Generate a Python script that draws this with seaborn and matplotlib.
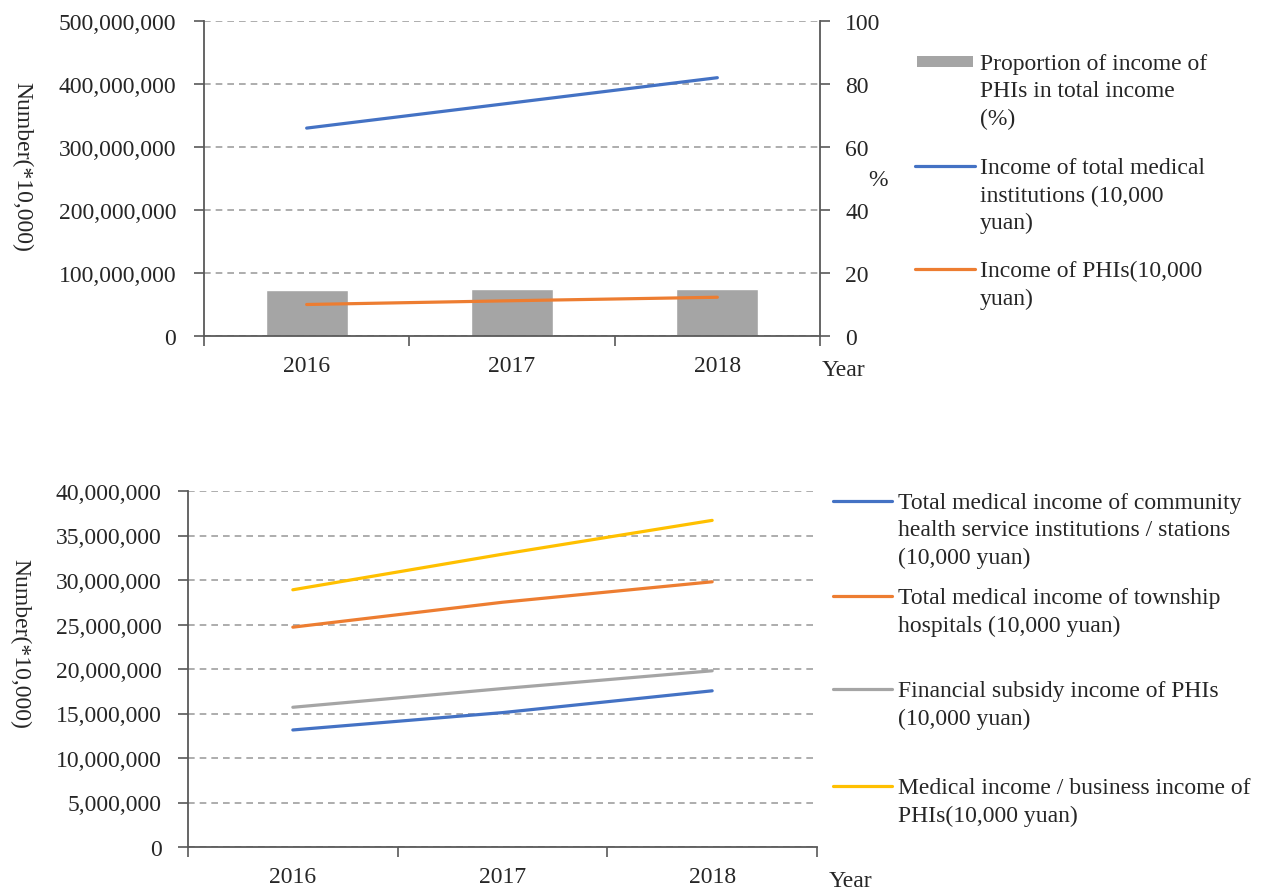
import numpy as np
import pandas as pd
import matplotlib.pyplot as plt
import seaborn as sns
from matplotlib.lines import Line2D
from matplotlib.patches import Rectangle
from matplotlib.ticker import FuncFormatter, MultipleLocator

# data
years = ['2016', '2017', '2018']
proportion = [14.5, 14.9, 15.0]                 # % (bars, right axis)
total_income = [330e6, 370e6, 410e6]            # 10,000 yuan
phi_income = [50e6, 56e6, 61.5e6]

community = [13.15e6, 15.1e6, 17.55e6]
township = [24.7e6, 27.5e6, 29.8e6]
subsidy = [15.7e6, 17.8e6, 19.8e6]
business = [28.9e6, 32.9e6, 36.7e6]

top_names = ['Proportion of income of\nPHIs in total income\n(%)',
             'Income of total medical\ninstitutions (10,000\nyuan)',
             'Income of PHIs(10,000\nyuan)']
bottom_names = ['Total medical income of community\nhealth service institutions / stations\n(10,000 yuan)',
                'Total medical income of township\nhospitals (10,000 yuan)',
                'Financial subsidy income of PHIs\n(10,000 yuan)',
                'Medical income / business income of\nPHIs(10,000 yuan)']

blue, orange, gray, yellow = '#4472C4', '#ED7D31', '#A5A5A5', '#FFC000'
txt = '#262626'
spine_c = '#595959'
grid_c = '#A0A0A0'

sns.set_style('white')
plt.rcParams['font.family'] = ['Liberation Serif', 'DejaVu Serif']
plt.rcParams['font.size'] = 17
plt.rcParams['text.color'] = txt
plt.rcParams['xtick.color'] = spine_c
plt.rcParams['ytick.color'] = spine_c
plt.rcParams['xtick.labelcolor'] = txt
plt.rcParams['ytick.labelcolor'] = txt

W, H = 1264, 895
fig = plt.figure(figsize=(W / 100, H / 100), dpi=100)


def box(l, t, r, b):
    return [l / W, 1 - b / H, (r - l) / W, (b - t) / H]


def fx(x):
    return x / W


def fy(y):
    return 1 - y / H


pos = np.arange(len(years))
bounds = np.arange(len(years) + 1) - 0.5
comma = FuncFormatter(lambda v, p: f'{v:,.0f}')


def style_x(ax):
    ax.set_xlim(-0.5, len(years) - 0.5)
    ax.set_xticks(bounds)
    ax.set_xticklabels([''] * len(bounds))
    ax.set_xticks(pos, minor=True)
    ax.set_xticklabels(years, minor=True)
    ax.tick_params(axis='x', which='major', bottom=True, length=7, width=1.2)
    ax.tick_params(axis='x', which='minor', bottom=True, length=0, pad=14)
    ax.set_xlabel('')


# ---------- top panel ----------
ax1 = fig.add_axes(box(204, 22, 820, 337))
ax2 = ax1.twinx()

bars = pd.DataFrame({'pos': pos, 'pct': proportion})
sns.barplot(data=bars, x='pos', y='pct', ax=ax2, color=gray, width=0.4, saturation=1)

top_df = pd.DataFrame({
    'pos': np.concatenate([pos, pos]),
    'value': total_income + phi_income,
    'series': [top_names[1]] * 3 + [top_names[2]] * 3,
})
sns.lineplot(data=top_df, x='pos', y='value', hue='series',
             palette=[blue, orange], linewidth=2.3, legend=False, ax=ax1)

ax1.set_zorder(ax2.get_zorder() + 1)
ax1.patch.set_visible(False)

ax1.set_ylim(0, 500e6)
ax1.yaxis.set_major_locator(MultipleLocator(100e6))
ax1.yaxis.set_major_formatter(comma)
ax1.tick_params(axis='y', left=True, length=7, width=1.2, pad=13)
ax1.yaxis.grid(True, color=grid_c, linestyle=(0, (4, 3)), linewidth=1.2)
ax1.set_ylabel('')

ax2.set_ylim(0, 100)
ax2.yaxis.set_major_locator(MultipleLocator(20))
ax2.tick_params(axis='y', right=True, length=7, width=1.2, pad=11)
ax2.set_ylabel('')
ax2.set_xlabel('')
style_x(ax1)

for a in (ax1, ax2):
    for s in a.spines.values():
        s.set_color(spine_c)
        s.set_linewidth(1.3)
    a.spines['top'].set_visible(False)
ax1.spines['right'].set_visible(False)
ax2.spines['left'].set_visible(False)
ax2.spines['bottom'].set_visible(False)

fig.text(fx(22), fy(167), 'Number(*10,000)', rotation=-90, ha='center', va='center')
fig.text(fx(878), fy(180), '%', ha='center', va='center')
fig.text(fx(843), fy(370), 'Year', ha='center', va='center')

# ---------- bottom panel ----------
ax3 = fig.add_axes(box(188, 492, 817, 848))
bottom_series = [community, township, subsidy, business]
bot_df = pd.DataFrame({
    'pos': np.tile(pos, len(bottom_series)),
    'value': np.concatenate(bottom_series),
    'series': np.repeat(bottom_names, len(pos)),
})
sns.lineplot(data=bot_df, x='pos', y='value', hue='series', hue_order=bottom_names,
             palette=[blue, orange, gray, yellow], linewidth=2.3, legend=False, ax=ax3)
ax3.set_ylim(0, 40e6)
ax3.yaxis.set_major_locator(MultipleLocator(5e6))
ax3.yaxis.set_major_formatter(comma)
ax3.tick_params(axis='y', left=True, length=7, width=1.2, pad=12)
ax3.yaxis.grid(True, color=grid_c, linestyle=(0, (4, 3)), linewidth=1.2)
ax3.set_ylabel('')
style_x(ax3)
for s in ax3.spines.values():
    s.set_color(spine_c)
    s.set_linewidth(1.3)
ax3.spines['top'].set_visible(False)
ax3.spines['right'].set_visible(False)

fig.text(fx(20), fy(644), 'Number(*10,000)', rotation=-90, ha='center', va='center')
fig.text(fx(850), fy(882), 'Year', ha='center', va='center')

# ---------- legends (handle level with first text line) ----------
def legend_text(x, y, name):
    fig.text(fx(x), fy(y - 9), name, va='top', ha='left', linespacing=1.4)


fig.add_artist(Rectangle((fx(917), fy(68)), fx(973) - fx(917), fy(57) - fy(68),
                         transform=fig.transFigure, color=gray, lw=0))
legend_text(980, 63, top_names[0])
for name, c, y in [(top_names[1], blue, 167), (top_names[2], orange, 270)]:
    fig.add_artist(Line2D([fx(915), fx(975)], [fy(y), fy(y)], color=c, lw=2.3,
                          transform=fig.transFigure))
    legend_text(980, y, name)

for name, c, y in zip(bottom_names, [blue, orange, gray, yellow], [502, 597, 690, 787]):
    fig.add_artist(Line2D([fx(833), fx(892)], [fy(y), fy(y)], color=c, lw=2.3,
                          transform=fig.transFigure))
    legend_text(898, y, name)

fig.savefig('out.png', dpi=100)
